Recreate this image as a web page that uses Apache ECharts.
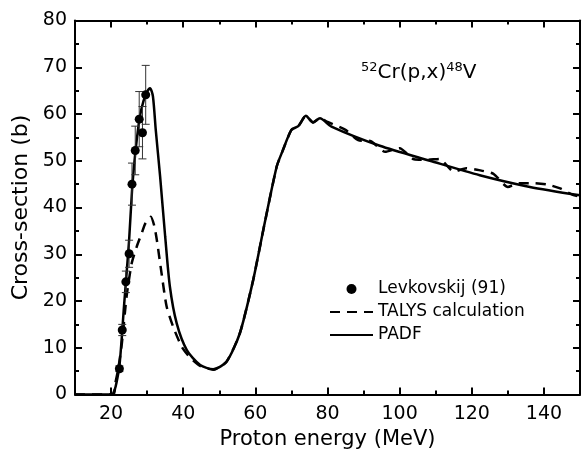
<!DOCTYPE html>
<html><head><meta charset="utf-8">
<script src="https://cdn.jsdelivr.net/npm/echarts@6/dist/echarts.min.js"></script>
<style>html,body{margin:0;padding:0;background:#fff}#c{width:582px;height:459px}</style>
</head><body><div id="c"></div>
<script>
// Experimental data: Levkovskij (91)
const expEnergy = [22.3, 23.1, 24.1, 25.0, 25.8, 26.7, 27.8, 28.7, 29.6];
const expXS     = [5.5, 13.8, 24.1, 30.1, 45.0, 52.2, 58.9, 56.0, 64.1];
const expErr    = [0.6, 1.2, 2.3, 2.9, 4.5, 5.2, 5.9, 5.6, 6.3];

// PADF curve (solid)
const padfEnergy = [10, 20, 20.2, 21, 21.5, 22.3, 23, 23.5, 24, 25, 25.8, 26.5, 27.2, 28, 29, 30, 30.8, 31.6, 32.4, 33.6, 35, 36.3, 38.2, 41, 44.7, 48.3, 52, 55.7, 59.4, 62.2, 65.9, 67.5, 70, 71.9, 74, 76, 77.9, 81.1, 94.5, 108.4, 122.2, 136.1, 150];
const padfXS     = [0, 0, 0, 1, 2.5, 6, 12.5, 18, 23, 33, 43.5, 50, 55, 59.5, 62.8, 64.8, 65.5, 63.8, 56.5, 46.6, 33.8, 23.1, 15.2, 9.5, 6.3, 5.4, 7.0, 13.1, 24.5, 35.2, 48.7, 52, 56.6, 57.4, 59.6, 58.2, 59.1, 57.3, 53.2, 50.0, 46.9, 44.4, 42.6];

// TALYS calculation (dashed)
const talysEnergy = [10, 20.6, 21.2, 22, 23, 24.3, 25.7, 27.1, 28.5, 29.5, 31, 32, 32.7, 34, 35.4, 37.2, 39.6, 42, 44.7, 48.3, 52, 55.7, 59.4, 62.2, 65.9, 67.5, 70, 71.9, 74, 76, 77.9, 80, 85, 88.5, 92, 96, 100, 104, 107.5, 111, 115, 118.5, 122, 126, 130, 133, 137, 141, 144.5, 148, 150];
const talysXS     = [0, 0, 2.5, 5.5, 11, 21, 28, 31.6, 34.5, 36.6, 38, 36, 33, 25.9, 18.8, 14.5, 10.2, 7.8, 6.1, 5.3, 7.0, 13.1, 24.5, 35.2, 48.7, 52, 56.6, 57.4, 59.6, 58.2, 59.1, 58.3, 56.6, 54.4, 54.2, 51.9, 52.7, 50.3, 50.2, 50.4, 47.7, 48.4, 48.0, 47.2, 44.4, 45.2, 45.2, 44.9, 44.1, 42.7, 42.3];

// Axis ticks
const xMajor = [20, 40, 60, 80, 100, 120, 140];
const xMinor = [10, 30, 50, 70, 90, 110, 130, 150];

const FONT = 'DejaVu Sans';
const black = '#000';
const gridBox = {left: 75, right: 2, top: 20.5, bottom: 64.5};

function xAx(gridIndex, position, ticks, len, showLine, labels) {
  return {
    type: 'value', gridIndex, position, min: 10, max: 150,
    axisLine: {show: showLine, onZero: false, lineStyle: {color: black, width: 2}},
    axisTick: {show: true, inside: true, length: len, lineStyle: {color: black, width: 2}, customValues: ticks},
    axisLabel: labels ? {show: true, customValues: ticks, fontFamily: FONT, fontSize: 19, color: black, margin: 10} : {show: false},
    splitLine: {show: false}
  };
}

const chart = echarts.init(document.getElementById('c'));
chart.setOption({
  animation: false,
  backgroundColor: '#fff',
  grid: [Object.assign({}, gridBox), Object.assign({}, gridBox)],
  xAxis: [
    Object.assign(xAx(0, 'bottom', xMajor, 7, true, true), {
      name: 'Proton energy (MeV)', nameLocation: 'middle', nameGap: 35,
      nameTextStyle: {fontFamily: FONT, fontSize: 21, color: black}
    }),
    xAx(0, 'top', xMajor, 7, true, false),
    xAx(1, 'bottom', xMinor, 4, false, false),
    xAx(1, 'top', xMinor, 4, false, false)
  ],
  yAxis: [
    {
      type: 'value', gridIndex: 0, position: 'left', min: 0, max: 80, interval: 10,
      axisLine: {show: true, onZero: false, lineStyle: {color: black, width: 2}},
      axisTick: {show: true, inside: true, length: 7, lineStyle: {color: black, width: 2}},
      minorTick: {show: true, splitNumber: 2, length: 4, lineStyle: {color: black, width: 2}},
      axisLabel: {fontFamily: FONT, fontSize: 19, color: black, margin: 8},
      splitLine: {show: false},
      name: 'Cross-section (b)', nameLocation: 'middle', nameGap: 38,
      nameTextStyle: {fontFamily: FONT, fontSize: 22, color: black}
    },
    {
      type: 'value', gridIndex: 0, position: 'right', min: 0, max: 80, interval: 10,
      axisLine: {show: true, onZero: false, lineStyle: {color: black, width: 2}},
      axisTick: {show: true, inside: true, length: 7, lineStyle: {color: black, width: 2}},
      minorTick: {show: true, splitNumber: 2, length: 4, lineStyle: {color: black, width: 2}},
      axisLabel: {show: false},
      splitLine: {show: false}
    },
    {type: 'value', gridIndex: 1, min: 0, max: 80, show: false},
    {type: 'value', gridIndex: 1, min: 0, max: 80, show: false, position: 'right'}
  ],
  legend: {
    orient: 'vertical', left: 329, top: 278, padding: 0,
    itemWidth: 43, itemHeight: 10, itemGap: 1,
    textStyle: {fontFamily: FONT, fontSize: 17, color: black, lineHeight: 22},
    data: [
      {name: 'Levkovskij (91)', icon: 'circle', itemStyle: {color: black, opacity: 1}},
      {name: 'TALYS calculation', itemStyle: {opacity: 0}},
      {name: 'PADF', itemStyle: {opacity: 0}}
    ]
  },
  graphic: [{
    type: 'text', left: 361, top: 61,
    style: {
      text: '{s|52}{n|Cr(p,x)}{s|48}{n|V}',
      rich: {
        s: {fontFamily: FONT, fontSize: 13, lineHeight: 15, verticalAlign: 'top', fill: black},
        n: {fontFamily: FONT, fontSize: 20, lineHeight: 22, verticalAlign: 'bottom', fill: black}
      }
    }
  }],
  series: [
    {
      type: 'custom', xAxisIndex: 0, yAxisIndex: 0, z: 3,
      data: expEnergy.map((e, i) => [e, expXS[i], expErr[i]]),
      encode: {x: 0, y: 1},
      renderItem: function (params, api) {
        const x = api.value(0), y = api.value(1), e = api.value(2);
        const top = api.coord([x, y + e]), bot = api.coord([x, y - e]);
        const w = 4;
        const st = {stroke: '#333', lineWidth: 1};
        return {type: 'group', children: [
          {type: 'line', shape: {x1: top[0], y1: top[1], x2: bot[0], y2: bot[1]}, style: st},
          {type: 'line', shape: {x1: top[0] - w, y1: top[1], x2: top[0] + w, y2: top[1]}, style: st},
          {type: 'line', shape: {x1: bot[0] - w, y1: bot[1], x2: bot[0] + w, y2: bot[1]}, style: st}
        ]};
      }
    },
    {
      name: 'Levkovskij (91)', type: 'scatter', xAxisIndex: 0, yAxisIndex: 0, z: 5,
      symbol: 'circle', symbolSize: 9,
      itemStyle: {color: black, opacity: 1},
      data: expEnergy.map((e, i) => [e, expXS[i]])
    },
    {
      name: 'TALYS calculation', type: 'line', xAxisIndex: 0, yAxisIndex: 0, z: 2,
      showSymbol: false, symbol: 'none', smooth: 0.2,
      lineStyle: {color: black, width: 2.5, type: [10, 7]},
      itemStyle: {color: black},
      data: talysEnergy.map((e, i) => [e, talysXS[i]])
    },
    {
      name: 'PADF', type: 'line', xAxisIndex: 0, yAxisIndex: 0, z: 2,
      showSymbol: false, symbol: 'none', smooth: 0.25,
      lineStyle: {color: black, width: 2.5},
      itemStyle: {color: black},
      data: padfEnergy.map((e, i) => [e, padfXS[i]])
    }
  ]
});
</script>
</body></html>
